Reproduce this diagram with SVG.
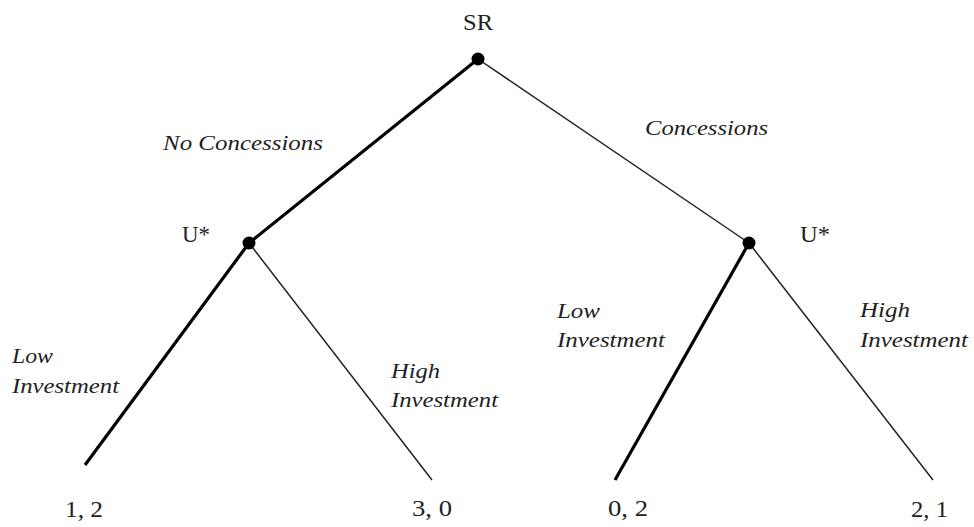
<svg xmlns="http://www.w3.org/2000/svg" width="974" height="527" viewBox="0 0 974 527">
<style>
.lbl{font-family:"Liberation Serif","Times New Roman",serif;font-size:23px;fill:#222;}
.it{font-family:"Liberation Serif","Times New Roman",serif;font-size:22px;font-style:italic;fill:#222;}
.thick{stroke:#000;stroke-width:3.2;fill:none;}
.thin{stroke:#222;stroke-width:1.5;fill:none;}
.dot{fill:#000;}
</style>
<rect width="974" height="527" fill="#fff"/>
<g id="connectors">
<line class="thick" x1="478" y1="59" x2="249" y2="243"/>
<line class="thin" x1="478" y1="59" x2="749" y2="243"/>
<line class="thick" x1="249" y1="243" x2="85" y2="465"/>
<line class="thin" x1="249" y1="243" x2="432" y2="480"/>
<line class="thick" x1="749" y1="243" x2="615" y2="480"/>
<line class="thin" x1="749" y1="243" x2="933" y2="480"/>
<text class="it" x="163" y="150" textLength="160" lengthAdjust="spacingAndGlyphs">No Concessions</text>
<text class="it" x="645" y="135" textLength="123" lengthAdjust="spacingAndGlyphs">Concessions</text>
<text class="it" x="12" y="363" textLength="41" lengthAdjust="spacingAndGlyphs">Low</text>
<text class="it" x="12" y="393" textLength="107" lengthAdjust="spacingAndGlyphs">Investment</text>
<text class="it" x="391" y="378" textLength="49" lengthAdjust="spacingAndGlyphs">High</text>
<text class="it" x="391" y="407" textLength="107" lengthAdjust="spacingAndGlyphs">Investment</text>
<text class="it" x="557" y="318" textLength="43" lengthAdjust="spacingAndGlyphs">Low</text>
<text class="it" x="557" y="347" textLength="108" lengthAdjust="spacingAndGlyphs">Investment</text>
<text class="it" x="860" y="317" textLength="50" lengthAdjust="spacingAndGlyphs">High</text>
<text class="it" x="860" y="347" textLength="108" lengthAdjust="spacingAndGlyphs">Investment</text>
</g>
<g id="node-sr">
<circle class="dot" cx="478" cy="59" r="6.5"/>
<text class="lbl" x="463" y="30" textLength="30" lengthAdjust="spacingAndGlyphs">SR</text>
</g>
<g id="node-u-left">
<circle class="dot" cx="249" cy="243" r="6.5"/>
<text class="lbl" x="182" y="242" textLength="28" lengthAdjust="spacingAndGlyphs">U*</text>
</g>
<g id="node-u-right">
<circle class="dot" cx="749" cy="243" r="6.5"/>
<text class="lbl" x="800" y="242" textLength="30" lengthAdjust="spacingAndGlyphs">U*</text>
</g>
<g id="leaf-1">
<text class="lbl" x="65" y="517" textLength="38" lengthAdjust="spacingAndGlyphs">1, 2</text>
</g>
<g id="leaf-2">
<text class="lbl" x="412" y="516" textLength="40" lengthAdjust="spacingAndGlyphs">3, 0</text>
</g>
<g id="leaf-3">
<text class="lbl" x="608" y="516" textLength="40" lengthAdjust="spacingAndGlyphs">0, 2</text>
</g>
<g id="leaf-4">
<text class="lbl" x="911" y="517" textLength="37" lengthAdjust="spacingAndGlyphs">2, 1</text>
</g>
</svg>
